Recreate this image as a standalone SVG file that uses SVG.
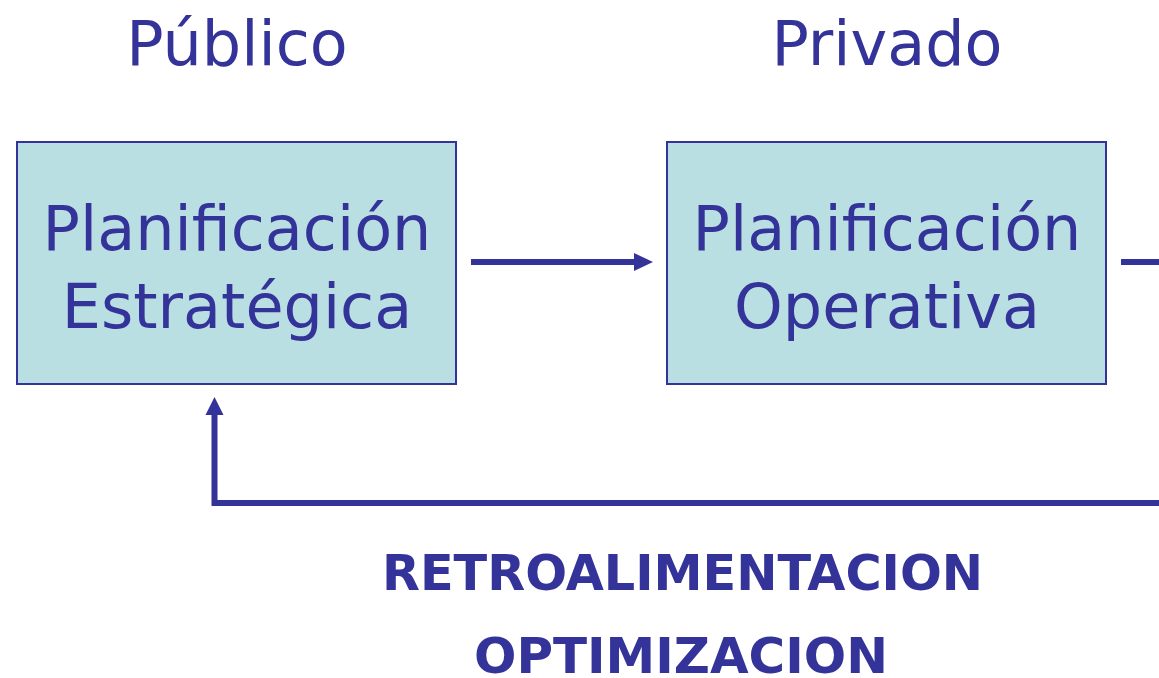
<svg xmlns="http://www.w3.org/2000/svg" width="1159" height="678" viewBox="0 0 1159 678">
<style>
.box{fill:#B9DFE3;stroke:#333399;stroke-width:2}
.t{font-family:"DejaVu Sans",Verdana,sans-serif;fill:#333399;text-anchor:middle}
.big{font-size:62px}
.bold{font-size:49px;font-weight:bold}
.ln{stroke:#333399;stroke-width:6;fill:none}
.head{fill:#333399}
</style>
<rect width="1159" height="678" fill="#fff"/>
<g id="title-publico"><text class="t big" x="237" y="65">Público</text></g>
<g id="title-privado"><text class="t big" x="887" y="65">Privado</text></g>
<g id="node-estrategica">
<rect class="box" x="17" y="142" width="439" height="242"/>
<text class="t big" x="237" y="250">Planificación</text>
<text class="t big" x="237" y="328">Estratégica</text>
</g>
<g id="node-operativa">
<rect class="box" x="667" y="142" width="439" height="242"/>
<text class="t big" x="887" y="250">Planificación</text>
<text class="t big" x="887" y="328">Operativa</text>
</g>
<g id="connectors">
<line class="ln" x1="471" y1="262" x2="636" y2="262"/>
<polygon class="head" points="634,253 653,262 634,271"/>
<line class="ln" x1="1121" y1="262" x2="1159" y2="262"/>
<polyline class="ln" points="1159,503 214.5,503 214.5,413"/>
<polygon class="head" points="205.5,415 214.5,397 223.5,415"/>
</g>
<g id="label-retro"><text class="t bold" x="682.5" y="590" textLength="601" lengthAdjust="spacingAndGlyphs">RETROALIMENTACION</text></g>
<g id="label-optim"><text class="t bold" x="681" y="673" textLength="414" lengthAdjust="spacingAndGlyphs">OPTIMIZACION</text></g>
</svg>
